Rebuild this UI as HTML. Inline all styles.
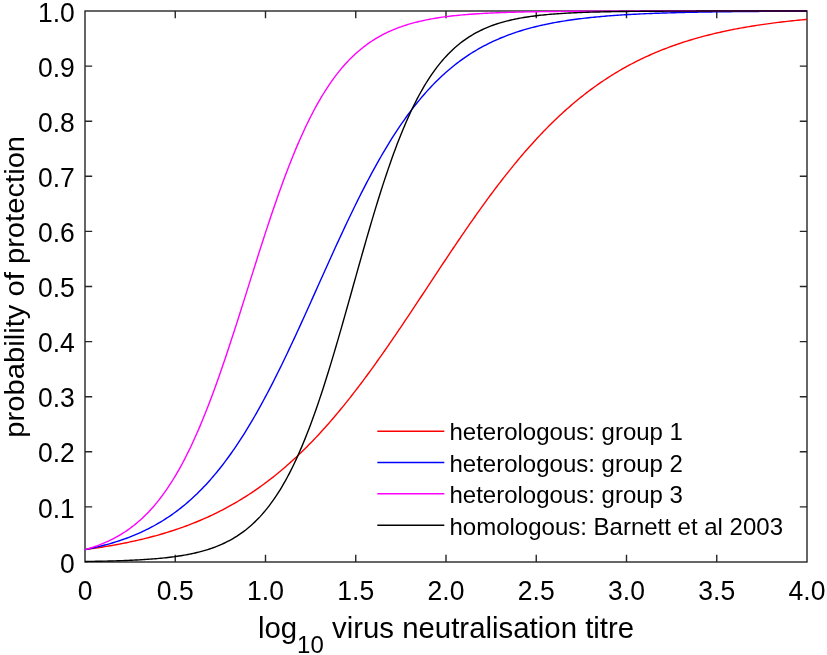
<!DOCTYPE html>
<html><head><meta charset="utf-8"><style>
html,body{margin:0;padding:0;background:#fff;}
svg{display:block;}
text{font-family:"Liberation Sans",sans-serif;fill:#000;}
</style></head><body>
<svg width="827" height="655" viewBox="0 0 827 655">
<rect width="827" height="655" fill="#fff"/>
<defs><clipPath id="ax"><rect x="85.0" y="10.0" width="722.0" height="553.0"/></clipPath></defs>
<path d="M175.25 562.00V554.80M175.25 11.00V18.20M265.50 562.00V554.80M265.50 11.00V18.20M355.75 562.00V554.80M355.75 11.00V18.20M446.00 562.00V554.80M446.00 11.00V18.20M536.25 562.00V554.80M536.25 11.00V18.20M626.50 562.00V554.80M626.50 11.00V18.20M716.75 562.00V554.80M716.75 11.00V18.20M85.00 506.90H92.20M807.00 506.90H799.80M85.00 451.80H92.20M807.00 451.80H799.80M85.00 396.70H92.20M807.00 396.70H799.80M85.00 341.60H92.20M807.00 341.60H799.80M85.00 286.50H92.20M807.00 286.50H799.80M85.00 231.40H92.20M807.00 231.40H799.80M85.00 176.30H92.20M807.00 176.30H799.80M85.00 121.20H92.20M807.00 121.20H799.80M85.00 66.10H92.20M807.00 66.10H799.80" stroke="#262626" stroke-width="1.4" fill="none"/>
<rect x="85.0" y="11.0" width="722.0" height="551.0" fill="none" stroke="#262626" stroke-width="1.4"/>
<g clip-path="url(#ax)">
<polyline fill="none" stroke="#ff0000" stroke-width="1.4" stroke-linejoin="round" points="85.00,549.61 86.81,549.37 88.61,549.12 90.42,548.87 92.22,548.61 94.03,548.35 95.83,548.08 97.64,547.81 99.44,547.53 101.25,547.25 103.05,546.96 104.86,546.67 106.66,546.37 108.47,546.06 110.27,545.75 112.08,545.44 113.88,545.12 115.69,544.79 117.49,544.45 119.30,544.11 121.10,543.77 122.91,543.41 124.71,543.05 126.52,542.69 128.32,542.31 130.12,541.93 131.93,541.54 133.74,541.15 135.54,540.75 137.34,540.34 139.15,539.92 140.95,539.50 142.76,539.06 144.56,538.62 146.37,538.17 148.18,537.72 149.98,537.25 151.78,536.78 153.59,536.30 155.39,535.81 157.20,535.31 159.00,534.80 160.81,534.28 162.62,533.75 164.42,533.21 166.23,532.67 168.03,532.11 169.83,531.54 171.64,530.97 173.44,530.38 175.25,529.78 177.06,529.18 178.86,528.56 180.67,527.93 182.47,527.29 184.28,526.64 186.08,525.97 187.88,525.30 189.69,524.61 191.50,523.91 193.30,523.20 195.11,522.48 196.91,521.75 198.72,521.00 200.52,520.24 202.32,519.47 204.13,518.68 205.94,517.88 207.74,517.07 209.54,516.24 211.35,515.40 213.16,514.55 214.96,513.68 216.76,512.80 218.57,511.90 220.38,510.99 222.18,510.06 223.99,509.12 225.79,508.16 227.59,507.19 229.40,506.20 231.21,505.20 233.01,504.18 234.81,503.14 236.62,502.09 238.42,501.02 240.23,499.93 242.03,498.83 243.84,497.71 245.65,496.58 247.45,495.42 249.25,494.25 251.06,493.06 252.87,491.86 254.67,490.63 256.48,489.39 258.28,488.13 260.09,486.85 261.89,485.55 263.69,484.23 265.50,482.90 267.31,481.54 269.11,480.17 270.91,478.77 272.72,477.36 274.52,475.93 276.33,474.48 278.13,473.00 279.94,471.51 281.75,470.00 283.55,468.47 285.36,466.92 287.16,465.34 288.96,463.75 290.77,462.14 292.57,460.50 294.38,458.85 296.18,457.17 297.99,455.48 299.79,453.76 301.60,452.02 303.40,450.26 305.21,448.48 307.01,446.68 308.82,444.86 310.62,443.02 312.43,441.16 314.24,439.27 316.04,437.37 317.85,435.44 319.65,433.49 321.46,431.53 323.26,429.54 325.07,427.53 326.87,425.50 328.68,423.45 330.48,421.38 332.29,419.29 334.09,417.18 335.89,415.05 337.70,412.90 339.50,410.73 341.31,408.54 343.12,406.33 344.92,404.11 346.72,401.86 348.53,399.59 350.33,397.31 352.14,395.01 353.94,392.69 355.75,390.35 357.56,387.99 359.36,385.62 361.17,383.23 362.97,380.82 364.78,378.40 366.58,375.96 368.38,373.51 370.19,371.04 372.00,368.55 373.80,366.05 375.61,363.54 377.41,361.01 379.21,358.46 381.02,355.91 382.82,353.34 384.63,350.76 386.44,348.17 388.24,345.56 390.05,342.95 391.85,340.32 393.65,337.68 395.46,335.04 397.26,332.38 399.07,329.72 400.88,327.05 402.68,324.37 404.49,321.68 406.29,318.98 408.10,316.28 409.90,313.58 411.70,310.86 413.51,308.15 415.31,305.43 417.12,302.70 418.93,299.97 420.73,297.24 422.54,294.51 424.34,291.78 426.14,289.04 427.95,286.31 429.75,283.57 431.56,280.84 433.37,278.10 435.17,275.37 436.97,272.64 438.78,269.91 440.58,267.19 442.39,264.47 444.19,261.75 446.00,259.04 447.80,256.34 449.61,253.64 451.41,250.94 453.22,248.26 455.02,245.58 456.83,242.91 458.63,240.24 460.44,237.59 462.24,234.94 464.05,232.31 465.85,229.68 467.66,227.07 469.46,224.47 471.27,221.88 473.07,219.30 474.88,216.73 476.69,214.18 478.49,211.64 480.30,209.11 482.10,206.60 483.90,204.10 485.71,201.61 487.51,199.15 489.32,196.69 491.12,194.26 492.93,191.84 494.74,189.43 496.54,187.04 498.35,184.67 500.15,182.32 501.95,179.98 503.76,177.67 505.56,175.37 507.37,173.08 509.18,170.82 510.98,168.58 512.79,166.35 514.59,164.15 516.39,161.96 518.20,159.79 520.01,157.65 521.81,155.52 523.62,153.41 525.42,151.33 527.23,149.26 529.03,147.21 530.84,145.19 532.64,143.18 534.45,141.19 536.25,139.23 538.05,137.29 539.86,135.36 541.66,133.46 543.47,131.58 545.27,129.72 547.08,127.88 548.88,126.06 550.69,124.27 552.49,122.49 554.30,120.73 556.11,119.00 557.91,117.28 559.71,115.59 561.52,113.92 563.33,112.27 565.13,110.64 566.93,109.02 568.74,107.43 570.55,105.86 572.35,104.32 574.15,102.79 575.96,101.28 577.76,99.79 579.57,98.32 581.38,96.87 583.18,95.44 584.99,94.03 586.79,92.64 588.60,91.27 590.40,89.91 592.20,88.58 594.01,87.27 595.82,85.97 597.62,84.69 599.43,83.44 601.23,82.19 603.03,80.97 604.84,79.77 606.64,78.58 608.45,77.41 610.25,76.26 612.06,75.13 613.87,74.01 615.67,72.91 617.48,71.83 619.28,70.76 621.09,69.71 622.89,68.68 624.70,67.66 626.50,66.66 628.30,65.67 630.11,64.70 631.91,63.75 633.72,62.81 635.52,61.88 637.33,60.97 639.13,60.08 640.94,59.20 642.75,58.33 644.55,57.48 646.36,56.64 648.16,55.82 649.97,55.01 651.77,54.21 653.57,53.42 655.38,52.65 657.18,51.89 658.99,51.15 660.79,50.42 662.60,49.70 664.40,48.99 666.21,48.29 668.01,47.61 669.82,46.93 671.62,46.27 673.43,45.62 675.24,44.98 677.04,44.36 678.85,43.74 680.65,43.13 682.46,42.54 684.26,41.95 686.07,41.38 687.87,40.81 689.68,40.26 691.48,39.71 693.28,39.17 695.09,38.65 696.89,38.13 698.70,37.62 700.50,37.13 702.31,36.64 704.12,36.15 705.92,35.68 707.73,35.22 709.53,34.76 711.34,34.31 713.14,33.88 714.95,33.44 716.75,33.02 718.55,32.60 720.36,32.20 722.16,31.79 723.97,31.40 725.77,31.01 727.58,30.63 729.38,30.26 731.19,29.90 733.00,29.54 734.80,29.18 736.61,28.84 738.41,28.50 740.22,28.17 742.02,27.84 743.82,27.52 745.63,27.20 747.43,26.89 749.24,26.59 751.04,26.29 752.85,26.00 754.65,25.71 756.46,25.43 758.26,25.15 760.07,24.88 761.88,24.62 763.68,24.35 765.49,24.10 767.29,23.85 769.10,23.60 770.90,23.36 772.71,23.12 774.51,22.89 776.32,22.66 778.12,22.43 779.93,22.21 781.73,22.00 783.53,21.78 785.34,21.58 787.14,21.37 788.95,21.17 790.75,20.98 792.56,20.78 794.37,20.59 796.17,20.41 797.98,20.23 799.78,20.05 801.59,19.87 803.39,19.70 805.20,19.53 807.00,19.37"/>
<polyline fill="none" stroke="#0000ff" stroke-width="1.4" stroke-linejoin="round" points="85.00,549.61 86.81,549.25 88.61,548.88 90.42,548.50 92.22,548.11 94.03,547.71 95.83,547.30 97.64,546.87 99.44,546.43 101.25,545.99 103.05,545.52 104.86,545.05 106.66,544.56 108.47,544.06 110.27,543.55 112.08,543.02 113.88,542.48 115.69,541.92 117.49,541.34 119.30,540.75 121.10,540.15 122.91,539.53 124.71,538.89 126.52,538.23 128.32,537.56 130.12,536.86 131.93,536.15 133.74,535.42 135.54,534.67 137.34,533.90 139.15,533.11 140.95,532.30 142.76,531.47 144.56,530.61 146.37,529.74 148.18,528.84 149.98,527.91 151.78,526.97 153.59,526.00 155.39,525.00 157.20,523.98 159.00,522.93 160.81,521.85 162.62,520.75 164.42,519.62 166.23,518.46 168.03,517.27 169.83,516.06 171.64,514.81 173.44,513.53 175.25,512.22 177.06,510.88 178.86,509.51 180.67,508.10 182.47,506.67 184.28,505.19 186.08,503.68 187.88,502.14 189.69,500.56 191.50,498.95 193.30,497.30 195.11,495.61 196.91,493.88 198.72,492.11 200.52,490.31 202.32,488.47 204.13,486.58 205.94,484.66 207.74,482.69 209.54,480.69 211.35,478.64 213.16,476.55 214.96,474.41 216.76,472.24 218.57,470.02 220.38,467.76 222.18,465.45 223.99,463.10 225.79,460.70 227.59,458.26 229.40,455.77 231.21,453.24 233.01,450.67 234.81,448.05 236.62,445.38 238.42,442.67 240.23,439.91 242.03,437.11 243.84,434.26 245.65,431.37 247.45,428.43 249.25,425.45 251.06,422.42 252.87,419.35 254.67,416.24 256.48,413.08 258.28,409.88 260.09,406.64 261.89,403.36 263.69,400.03 265.50,396.67 267.31,393.26 269.11,389.82 270.91,386.34 272.72,382.82 274.52,379.26 276.33,375.67 278.13,372.05 279.94,368.39 281.75,364.70 283.55,360.98 285.36,357.23 287.16,353.46 288.96,349.65 290.77,345.82 292.57,341.97 294.38,338.09 296.18,334.19 297.99,330.27 299.79,326.34 301.60,322.39 303.40,318.42 305.21,314.44 307.01,310.44 308.82,306.44 310.62,302.43 312.43,298.41 314.24,294.38 316.04,290.36 317.85,286.33 319.65,282.30 321.46,278.27 323.26,274.25 325.07,270.23 326.87,266.22 328.68,262.22 330.48,258.22 332.29,254.24 334.09,250.28 335.89,246.32 337.70,242.39 339.50,238.47 341.31,234.58 343.12,230.70 344.92,226.85 346.72,223.02 348.53,219.22 350.33,215.44 352.14,211.70 353.94,207.98 355.75,204.29 357.56,200.64 359.36,197.02 361.17,193.43 362.97,189.88 364.78,186.36 366.58,182.89 368.38,179.45 370.19,176.05 372.00,172.68 373.80,169.36 375.61,166.08 377.41,162.84 379.21,159.65 381.02,156.49 382.82,153.38 384.63,150.32 386.44,147.29 388.24,144.32 390.05,141.38 391.85,138.49 393.65,135.65 395.46,132.85 397.26,130.10 399.07,127.39 400.88,124.73 402.68,122.11 404.49,119.54 406.29,117.01 408.10,114.53 409.90,112.09 411.70,109.70 413.51,107.35 415.31,105.05 417.12,102.79 418.93,100.57 420.73,98.40 422.54,96.27 424.34,94.19 426.14,92.14 427.95,90.14 429.75,88.18 431.56,86.25 433.37,84.37 435.17,82.53 436.97,80.73 438.78,78.97 440.58,77.25 442.39,75.56 444.19,73.91 446.00,72.30 447.80,70.73 449.61,69.19 451.41,67.68 453.22,66.21 455.02,64.77 456.83,63.37 458.63,62.00 460.44,60.66 462.24,59.36 464.05,58.08 465.85,56.84 467.66,55.62 469.46,54.44 471.27,53.28 473.07,52.16 474.88,51.06 476.69,49.98 478.49,48.94 480.30,47.92 482.10,46.92 483.90,45.95 485.71,45.01 487.51,44.08 489.32,43.19 491.12,42.31 492.93,41.46 494.74,40.63 496.54,39.82 498.35,39.03 500.15,38.26 501.95,37.51 503.76,36.79 505.56,36.08 507.37,35.39 509.18,34.71 510.98,34.06 512.79,33.42 514.59,32.80 516.39,32.19 518.20,31.61 520.01,31.03 521.81,30.48 523.62,29.94 525.42,29.41 527.23,28.89 529.03,28.39 530.84,27.91 532.64,27.44 534.45,26.98 536.25,26.53 538.05,26.09 539.86,25.67 541.66,25.26 543.47,24.86 545.27,24.47 547.08,24.09 548.88,23.72 550.69,23.36 552.49,23.01 554.30,22.67 556.11,22.34 557.91,22.02 559.71,21.71 561.52,21.41 563.33,21.11 565.13,20.83 566.93,20.55 568.74,20.28 570.55,20.02 572.35,19.76 574.15,19.51 575.96,19.27 577.76,19.03 579.57,18.81 581.38,18.58 583.18,18.37 584.99,18.16 586.79,17.96 588.60,17.76 590.40,17.56 592.20,17.38 594.01,17.20 595.82,17.02 597.62,16.85 599.43,16.68 601.23,16.52 603.03,16.36 604.84,16.21 606.64,16.06 608.45,15.91 610.25,15.77 612.06,15.64 613.87,15.51 615.67,15.38 617.48,15.25 619.28,15.13 621.09,15.01 622.89,14.90 624.70,14.79 626.50,14.68 628.30,14.57 630.11,14.47 631.91,14.37 633.72,14.27 635.52,14.18 637.33,14.09 639.13,14.00 640.94,13.91 642.75,13.83 644.55,13.75 646.36,13.67 648.16,13.59 649.97,13.52 651.77,13.45 653.57,13.38 655.38,13.31 657.18,13.24 658.99,13.18 660.79,13.12 662.60,13.05 664.40,13.00 666.21,12.94 668.01,12.88 669.82,12.83 671.62,12.78 673.43,12.72 675.24,12.68 677.04,12.63 678.85,12.58 680.65,12.53 682.46,12.49 684.26,12.45 686.07,12.41 687.87,12.37 689.68,12.33 691.48,12.29 693.28,12.25 695.09,12.22 696.89,12.18 698.70,12.15 700.50,12.11 702.31,12.08 704.12,12.05 705.92,12.02 707.73,11.99 709.53,11.96 711.34,11.93 713.14,11.91 714.95,11.88 716.75,11.86 718.55,11.83 720.36,11.81 722.16,11.78 723.97,11.76 725.77,11.74 727.58,11.72 729.38,11.70 731.19,11.68 733.00,11.66 734.80,11.64 736.61,11.62 738.41,11.60 740.22,11.59 742.02,11.57 743.82,11.55 745.63,11.54 747.43,11.52 749.24,11.51 751.04,11.49 752.85,11.48 754.65,11.46 756.46,11.45 758.26,11.44 760.07,11.42 761.88,11.41 763.68,11.40 765.49,11.39 767.29,11.38 769.10,11.37 770.90,11.36 772.71,11.35 774.51,11.34 776.32,11.33 778.12,11.32 779.93,11.31 781.73,11.30 783.53,11.29 785.34,11.28 787.14,11.27 788.95,11.27 790.75,11.26 792.56,11.25 794.37,11.24 796.17,11.24 797.98,11.23 799.78,11.22 801.59,11.22 803.39,11.21 805.20,11.20 807.00,11.20"/>
<polyline fill="none" stroke="#ff00ff" stroke-width="1.4" stroke-linejoin="round" points="85.00,549.61 86.81,549.09 88.61,548.56 90.42,548.00 92.22,547.42 94.03,546.82 95.83,546.19 97.64,545.54 99.44,544.86 101.25,544.15 103.05,543.42 104.86,542.65 106.66,541.86 108.47,541.04 110.27,540.18 112.08,539.29 113.88,538.36 115.69,537.40 117.49,536.40 119.30,535.37 121.10,534.29 122.91,533.17 124.71,532.01 126.52,530.81 128.32,529.56 130.12,528.26 131.93,526.92 133.74,525.53 135.54,524.08 137.34,522.58 139.15,521.03 140.95,519.42 142.76,517.75 144.56,516.03 146.37,514.24 148.18,512.39 149.98,510.48 151.78,508.50 153.59,506.45 155.39,504.33 157.20,502.14 159.00,499.88 160.81,497.55 162.62,495.14 164.42,492.65 166.23,490.09 168.03,487.44 169.83,484.71 171.64,481.90 173.44,479.00 175.25,476.02 177.06,472.95 178.86,469.80 180.67,466.55 182.47,463.22 184.28,459.80 186.08,456.28 187.88,452.67 189.69,448.98 191.50,445.19 193.30,441.30 195.11,437.33 196.91,433.26 198.72,429.10 200.52,424.86 202.32,420.52 204.13,416.09 205.94,411.58 207.74,406.97 209.54,402.29 211.35,397.52 213.16,392.67 214.96,387.74 216.76,382.74 218.57,377.66 220.38,372.52 222.18,367.30 223.99,362.02 225.79,356.68 227.59,351.29 229.40,345.84 231.21,340.34 233.01,334.79 234.81,329.21 236.62,323.59 238.42,317.93 240.23,312.26 242.03,306.55 243.84,300.84 245.65,295.10 247.45,289.37 249.25,283.62 251.06,277.89 252.87,272.15 254.67,266.44 256.48,260.73 258.28,255.05 260.09,249.40 261.89,243.78 263.69,238.20 265.50,232.65 267.31,227.15 269.11,221.70 270.91,216.31 272.72,210.97 274.52,205.69 276.33,200.47 278.13,195.33 279.94,190.25 281.75,185.25 283.55,180.32 285.36,175.47 287.16,170.70 288.96,166.02 290.77,161.42 292.57,156.90 294.38,152.47 296.18,148.14 297.99,143.89 299.79,139.73 301.60,135.66 303.40,131.69 305.21,127.81 307.01,124.02 308.82,120.32 310.62,116.71 312.43,113.20 314.24,109.77 316.04,106.44 317.85,103.19 319.65,100.04 321.46,96.97 323.26,93.99 325.07,91.10 326.87,88.28 328.68,85.56 330.48,82.91 332.29,80.34 334.09,77.86 335.89,75.45 337.70,73.11 339.50,70.85 341.31,68.66 343.12,66.55 344.92,64.50 346.72,62.52 348.53,60.61 350.33,58.76 352.14,56.97 353.94,55.24 355.75,53.58 357.56,51.97 359.36,50.42 361.17,48.92 362.97,47.47 364.78,46.08 366.58,44.73 368.38,43.44 370.19,42.19 372.00,40.98 373.80,39.82 375.61,38.71 377.41,37.63 379.21,36.59 381.02,35.60 382.82,34.63 384.63,33.71 386.44,32.82 388.24,31.96 390.05,31.14 391.85,30.34 393.65,29.58 395.46,28.85 397.26,28.14 399.07,27.46 400.88,26.81 402.68,26.18 404.49,25.58 406.29,25.00 408.10,24.44 409.90,23.91 411.70,23.39 413.51,22.90 415.31,22.42 417.12,21.96 418.93,21.52 420.73,21.10 422.54,20.70 424.34,20.31 426.14,19.93 427.95,19.57 429.75,19.23 431.56,18.90 433.37,18.58 435.17,18.28 436.97,17.98 438.78,17.70 440.58,17.43 442.39,17.17 444.19,16.92 446.00,16.68 447.80,16.45 449.61,16.23 451.41,16.02 453.22,15.82 455.02,15.62 456.83,15.44 458.63,15.26 460.44,15.08 462.24,14.92 464.05,14.76 465.85,14.61 467.66,14.46 469.46,14.32 471.27,14.18 473.07,14.06 474.88,13.93 476.69,13.81 478.49,13.70 480.30,13.59 482.10,13.48 483.90,13.38 485.71,13.29 487.51,13.19 489.32,13.10 491.12,13.02 492.93,12.94 494.74,12.86 496.54,12.78 498.35,12.71 500.15,12.64 501.95,12.57 503.76,12.51 505.56,12.45 507.37,12.39 509.18,12.33 510.98,12.28 512.79,12.23 514.59,12.18 516.39,12.13 518.20,12.08 520.01,12.04 521.81,12.00 523.62,11.95 525.42,11.92 527.23,11.88 529.03,11.84 530.84,11.81 532.64,11.78 534.45,11.74 536.25,11.71 538.05,11.68 539.86,11.66 541.66,11.63 543.47,11.60 545.27,11.58 547.08,11.56 548.88,11.53 550.69,11.51 552.49,11.49 554.30,11.47 556.11,11.45 557.91,11.43 559.71,11.42 561.52,11.40 563.33,11.38 565.13,11.37 566.93,11.35 568.74,11.34 570.55,11.32 572.35,11.31 574.15,11.30 575.96,11.29 577.76,11.27 579.57,11.26 581.38,11.25 583.18,11.24 584.99,11.23 586.79,11.22 588.60,11.21 590.40,11.20 592.20,11.20 594.01,11.19 595.82,11.18 597.62,11.17 599.43,11.17 601.23,11.16 603.03,11.15 604.84,11.15 606.64,11.14 608.45,11.13 610.25,11.13 612.06,11.12 613.87,11.12 615.67,11.11 617.48,11.11 619.28,11.11 621.09,11.10 622.89,11.10 624.70,11.09 626.50,11.09 628.30,11.09 630.11,11.08 631.91,11.08 633.72,11.08 635.52,11.07 637.33,11.07 639.13,11.07 640.94,11.06 642.75,11.06 644.55,11.06 646.36,11.06 648.16,11.05 649.97,11.05 651.77,11.05 653.57,11.05 655.38,11.05 657.18,11.04 658.99,11.04 660.79,11.04 662.60,11.04 664.40,11.04 666.21,11.04 668.01,11.03 669.82,11.03 671.62,11.03 673.43,11.03 675.24,11.03 677.04,11.03 678.85,11.03 680.65,11.03 682.46,11.02 684.26,11.02 686.07,11.02 687.87,11.02 689.68,11.02 691.48,11.02 693.28,11.02 695.09,11.02 696.89,11.02 698.70,11.02 700.50,11.02 702.31,11.02 704.12,11.01 705.92,11.01 707.73,11.01 709.53,11.01 711.34,11.01 713.14,11.01 714.95,11.01 716.75,11.01 718.55,11.01 720.36,11.01 722.16,11.01 723.97,11.01 725.77,11.01 727.58,11.01 729.38,11.01 731.19,11.01 733.00,11.01 734.80,11.01 736.61,11.01 738.41,11.01 740.22,11.01 742.02,11.01 743.82,11.01 745.63,11.01 747.43,11.01 749.24,11.01 751.04,11.01 752.85,11.00 754.65,11.00 756.46,11.00 758.26,11.00 760.07,11.00 761.88,11.00 763.68,11.00 765.49,11.00 767.29,11.00 769.10,11.00 770.90,11.00 772.71,11.00 774.51,11.00 776.32,11.00 778.12,11.00 779.93,11.00 781.73,11.00 783.53,11.00 785.34,11.00 787.14,11.00 788.95,11.00 790.75,11.00 792.56,11.00 794.37,11.00 796.17,11.00 797.98,11.00 799.78,11.00 801.59,11.00 803.39,11.00 805.20,11.00 807.00,11.00"/>
<polyline fill="none" stroke="#000000" stroke-width="1.4" stroke-linejoin="round" points="85.00,561.47 86.81,561.45 88.61,561.42 90.42,561.39 92.22,561.36 94.03,561.33 95.83,561.30 97.64,561.27 99.44,561.23 101.25,561.20 103.05,561.16 104.86,561.12 106.66,561.08 108.47,561.03 110.27,560.98 112.08,560.94 113.88,560.89 115.69,560.83 117.49,560.78 119.30,560.72 121.10,560.66 122.91,560.59 124.71,560.53 126.52,560.45 128.32,560.38 130.12,560.30 131.93,560.22 133.74,560.14 135.54,560.05 137.34,559.96 139.15,559.86 140.95,559.76 142.76,559.65 144.56,559.54 146.37,559.42 148.18,559.30 149.98,559.17 151.78,559.03 153.59,558.89 155.39,558.74 157.20,558.59 159.00,558.42 160.81,558.25 162.62,558.08 164.42,557.89 166.23,557.69 168.03,557.49 169.83,557.28 171.64,557.05 173.44,556.82 175.25,556.57 177.06,556.31 178.86,556.04 180.67,555.76 182.47,555.47 184.28,555.16 186.08,554.83 187.88,554.49 189.69,554.14 191.50,553.77 193.30,553.38 195.11,552.97 196.91,552.55 198.72,552.11 200.52,551.64 202.32,551.15 204.13,550.64 205.94,550.11 207.74,549.56 209.54,548.97 211.35,548.36 213.16,547.73 214.96,547.06 216.76,546.37 218.57,545.64 220.38,544.88 222.18,544.09 223.99,543.26 225.79,542.39 227.59,541.49 229.40,540.54 231.21,539.56 233.01,538.53 234.81,537.45 236.62,536.33 238.42,535.16 240.23,533.94 242.03,532.67 243.84,531.34 245.65,529.96 247.45,528.52 249.25,527.01 251.06,525.45 252.87,523.82 254.67,522.12 256.48,520.36 258.28,518.52 260.09,516.61 261.89,514.62 263.69,512.55 265.50,510.41 267.31,508.17 269.11,505.86 270.91,503.45 272.72,500.96 274.52,498.37 276.33,495.69 278.13,492.91 279.94,490.04 281.75,487.06 283.55,483.97 285.36,480.79 287.16,477.49 288.96,474.09 290.77,470.58 292.57,466.95 294.38,463.21 296.18,459.36 297.99,455.40 299.79,451.31 301.60,447.12 303.40,442.80 305.21,438.37 307.01,433.83 308.82,429.17 310.62,424.39 312.43,419.51 314.24,414.51 316.04,409.40 317.85,404.18 319.65,398.86 321.46,393.43 323.26,387.91 325.07,382.29 326.87,376.57 328.68,370.77 330.48,364.89 332.29,358.92 334.09,352.89 335.89,346.78 337.70,340.61 339.50,334.39 341.31,328.11 343.12,321.79 344.92,315.43 346.72,309.04 348.53,302.63 350.33,296.19 352.14,289.75 353.94,283.30 355.75,276.86 357.56,270.43 359.36,264.01 361.17,257.62 362.97,251.26 364.78,244.94 366.58,238.67 368.38,232.44 370.19,226.27 372.00,220.17 373.80,214.13 375.61,208.16 377.41,202.28 379.21,196.48 381.02,190.76 382.82,185.14 384.63,179.62 386.44,174.19 388.24,168.87 390.05,163.65 391.85,158.54 393.65,153.54 395.46,148.65 397.26,143.87 399.07,139.21 400.88,134.66 402.68,130.23 404.49,125.92 406.29,121.72 408.10,117.64 409.90,113.67 411.70,109.82 413.51,106.08 415.31,102.45 417.12,98.94 418.93,95.54 420.73,92.24 422.54,89.05 424.34,85.97 426.14,82.99 427.95,80.11 429.75,77.33 431.56,74.65 433.37,72.06 435.17,69.57 436.97,67.16 438.78,64.84 440.58,62.61 442.39,60.47 444.19,58.40 446.00,56.41 447.80,54.50 449.61,52.66 451.41,50.89 453.22,49.19 455.02,47.56 456.83,46.00 458.63,44.50 460.44,43.05 462.24,41.67 464.05,40.34 465.85,39.07 467.66,37.85 469.46,36.68 471.27,35.56 473.07,34.48 474.88,33.45 476.69,32.46 478.49,31.52 480.30,30.61 482.10,29.75 483.90,28.92 485.71,28.13 487.51,27.37 489.32,26.64 491.12,25.94 492.93,25.28 494.74,24.64 496.54,24.03 498.35,23.45 500.15,22.89 501.95,22.36 503.76,21.85 505.56,21.36 507.37,20.90 509.18,20.45 510.98,20.03 512.79,19.62 514.59,19.23 516.39,18.86 518.20,18.51 520.01,18.17 521.81,17.85 523.62,17.54 525.42,17.24 527.23,16.96 529.03,16.69 530.84,16.43 532.64,16.19 534.45,15.95 536.25,15.73 538.05,15.51 539.86,15.31 541.66,15.11 543.47,14.93 545.27,14.75 547.08,14.58 548.88,14.41 550.69,14.26 552.49,14.11 554.30,13.97 556.11,13.83 557.91,13.71 559.71,13.58 561.52,13.46 563.33,13.35 565.13,13.25 566.93,13.14 568.74,13.05 570.55,12.95 572.35,12.86 574.15,12.78 575.96,12.70 577.76,12.62 579.57,12.55 581.38,12.48 583.18,12.41 584.99,12.34 586.79,12.28 588.60,12.22 590.40,12.17 592.20,12.12 594.01,12.06 595.82,12.02 597.62,11.97 599.43,11.93 601.23,11.88 603.03,11.84 604.84,11.80 606.64,11.77 608.45,11.73 610.25,11.70 612.06,11.67 613.87,11.64 615.67,11.61 617.48,11.58 619.28,11.55 621.09,11.53 622.89,11.50 624.70,11.48 626.50,11.46 628.30,11.44 630.11,11.42 631.91,11.40 633.72,11.38 635.52,11.36 637.33,11.35 639.13,11.33 640.94,11.32 642.75,11.30 644.55,11.29 646.36,11.27 648.16,11.26 649.97,11.25 651.77,11.24 653.57,11.23 655.38,11.22 657.18,11.21 658.99,11.20 660.79,11.19 662.60,11.18 664.40,11.17 666.21,11.16 668.01,11.16 669.82,11.15 671.62,11.14 673.43,11.14 675.24,11.13 677.04,11.12 678.85,11.12 680.65,11.11 682.46,11.11 684.26,11.10 686.07,11.10 687.87,11.09 689.68,11.09 691.48,11.09 693.28,11.08 695.09,11.08 696.89,11.07 698.70,11.07 700.50,11.07 702.31,11.06 704.12,11.06 705.92,11.06 707.73,11.06 709.53,11.05 711.34,11.05 713.14,11.05 714.95,11.05 716.75,11.04 718.55,11.04 720.36,11.04 722.16,11.04 723.97,11.04 725.77,11.04 727.58,11.03 729.38,11.03 731.19,11.03 733.00,11.03 734.80,11.03 736.61,11.03 738.41,11.03 740.22,11.02 742.02,11.02 743.82,11.02 745.63,11.02 747.43,11.02 749.24,11.02 751.04,11.02 752.85,11.02 754.65,11.02 756.46,11.02 758.26,11.02 760.07,11.01 761.88,11.01 763.68,11.01 765.49,11.01 767.29,11.01 769.10,11.01 770.90,11.01 772.71,11.01 774.51,11.01 776.32,11.01 778.12,11.01 779.93,11.01 781.73,11.01 783.53,11.01 785.34,11.01 787.14,11.01 788.95,11.01 790.75,11.01 792.56,11.01 794.37,11.01 796.17,11.01 797.98,11.01 799.78,11.01 801.59,11.00 803.39,11.00 805.20,11.00 807.00,11.00"/>
</g>
<g font-size="26.5">
<text transform="translate(85.00,599.6) scale(1,1.07)" text-anchor="middle">0</text>
<text transform="translate(175.25,599.6) scale(1,1.07)" text-anchor="middle">0.5</text>
<text transform="translate(265.50,599.6) scale(1,1.07)" text-anchor="middle">1.0</text>
<text transform="translate(355.75,599.6) scale(1,1.07)" text-anchor="middle">1.5</text>
<text transform="translate(446.00,599.6) scale(1,1.07)" text-anchor="middle">2.0</text>
<text transform="translate(536.25,599.6) scale(1,1.07)" text-anchor="middle">2.5</text>
<text transform="translate(626.50,599.6) scale(1,1.07)" text-anchor="middle">3.0</text>
<text transform="translate(716.75,599.6) scale(1,1.07)" text-anchor="middle">3.5</text>
<text transform="translate(807.00,599.6) scale(1,1.07)" text-anchor="middle">4.0</text>
<text transform="translate(74.8,573.40) scale(1,1.07)" text-anchor="end">0</text>
<text transform="translate(74.8,517.50) scale(1,1.07)" text-anchor="end">0.1</text>
<text transform="translate(74.8,462.40) scale(1,1.07)" text-anchor="end">0.2</text>
<text transform="translate(74.8,407.30) scale(1,1.07)" text-anchor="end">0.3</text>
<text transform="translate(74.8,352.20) scale(1,1.07)" text-anchor="end">0.4</text>
<text transform="translate(74.8,297.10) scale(1,1.07)" text-anchor="end">0.5</text>
<text transform="translate(74.8,242.00) scale(1,1.07)" text-anchor="end">0.6</text>
<text transform="translate(74.8,186.90) scale(1,1.07)" text-anchor="end">0.7</text>
<text transform="translate(74.8,131.80) scale(1,1.07)" text-anchor="end">0.8</text>
<text transform="translate(74.8,76.70) scale(1,1.07)" text-anchor="end">0.9</text>
<text transform="translate(74.8,21.60) scale(1,1.07)" text-anchor="end">1.0</text>
</g>
<g font-size="24.0">
<line x1="377.3" y1="431.2" x2="444.3" y2="431.2" stroke="#ff0000" stroke-width="1.5"/>
<text transform="translate(449.5,440.20) scale(1,1.02)">heterologous: group 1</text>
<line x1="377.3" y1="462.53" x2="444.3" y2="462.53" stroke="#0000ff" stroke-width="1.5"/>
<text transform="translate(449.5,471.73) scale(1,1.02)">heterologous: group 2</text>
<line x1="377.3" y1="493.87" x2="444.3" y2="493.87" stroke="#ff00ff" stroke-width="1.5"/>
<text transform="translate(449.5,503.27) scale(1,1.02)">heterologous: group 3</text>
<line x1="377.3" y1="525.2" x2="444.3" y2="525.2" stroke="#000000" stroke-width="1.5"/>
<text transform="translate(449.5,534.80) scale(1,1.02)">homologous: Barnett et al 2003</text>
</g>
<text font-size="29.4" transform="translate(446.0,638) scale(1,0.98)" text-anchor="middle">log<tspan font-size="24" dy="14.90">10</tspan><tspan dy="-14.90"> virus neutralisation titre</tspan></text>
<text font-size="29.2" transform="translate(23.9,286.8) rotate(-90) scale(1,0.95)" text-anchor="middle">probability of protection</text>
</svg>
</body></html>
